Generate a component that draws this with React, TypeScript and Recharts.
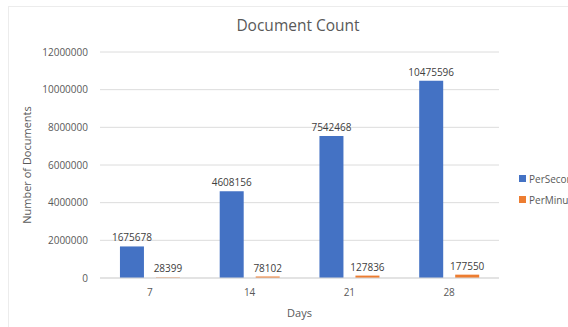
import React from 'react'
import { BarChart, Bar, XAxis, YAxis, CartesianGrid, LabelList } from 'recharts'

const days = ['7', '14', '21', '28']
const perSecond = [1675678, 4608156, 7542468, 10475596]
const perMinute = [28399, 78102, 127836, 177550]
const yTicks = [0, 2000000, 4000000, 6000000, 8000000, 10000000, 12000000]

const series = [
  { key: 'PerSecond', color: '#4472C4' },
  { key: 'PerMinute', color: '#ED7D31' },
]

const data = days.map((d, i) => ({ day: d, PerSecond: perSecond[i], PerMinute: perMinute[i] }))

const font = '"Open Sans", sans-serif'
const textGray = '#595959'

const App = () => {
  return (
    <div style={{ position: 'absolute', left: 0, top: 0, width: 568, height: 327, overflow: 'hidden', background: '#fff', fontFamily: font }}>
      {/* faint frame round the chart */}
      <div style={{ position: 'absolute', left: 8, top: 6, width: 700, height: 400, border: '1px solid #ececec' }} />
      <div style={{ position: 'absolute', left: 0, width: 596, top: 14, textAlign: 'center', fontSize: 15.5, color: textGray }}>
        Document Count
      </div>
      <BarChart
        width={568}
        height={327}
        data={data}
        margin={{ top: 52, right: 69, left: 0, bottom: 0 }}
        barCategoryGap="20%"
        barGap={12}
        style={{ position: 'absolute', left: 0, top: 0 }}
      >
        <CartesianGrid vertical={false} stroke="#dcdcdc" />
        <XAxis
          dataKey="day"
          height={49}
          tickLine={false}
          axisLine={{ stroke: '#d9d9d9' }}
          tickSize={6}
          tickMargin={5}
          tick={{ fontSize: 10, fill: textGray, fontFamily: font }}
          label={{ value: 'Days', position: 'insideBottom', offset: 10, fontSize: 11, fill: textGray, fontFamily: font }}
        />
        <YAxis
          width={100}
          domain={[0, 12000000]}
          ticks={yTicks}
          interval={0}
          tickLine={false}
          axisLine={false}
          tickSize={6}
          tickMargin={6}
          tick={{ fontSize: 10, fill: textGray, fontFamily: font }}
          label={{
            value: 'Number of Documents',
            angle: -90,
            position: 'insideLeft',
            offset: 27,
            fontSize: 11,
            fill: textGray,
            fontFamily: font,
            style: { textAnchor: 'middle' },
          }}
        />
        {series.map((s) => (
          <Bar key={s.key} dataKey={s.key} fill={s.color} isAnimationActive={false}>
            <LabelList dataKey={s.key} position="top" offset={5} fontSize={10} fill="#404040" fontFamily={font} />
          </Bar>
        ))}
      </BarChart>
      {/* legend runs off the right edge, as in the reference */}
      <div style={{ position: 'absolute', left: 519, top: 168, fontSize: 10, color: textGray, whiteSpace: 'nowrap' }}>
        {series.map((s) => (
          <div key={s.key} style={{ display: 'flex', alignItems: 'center', height: 21 }}>
            <span style={{ display: 'inline-block', width: 7, height: 7, background: s.color, marginRight: 3 }} />
            {s.key}
          </div>
        ))}
      </div>
    </div>
  )
}

export default App
